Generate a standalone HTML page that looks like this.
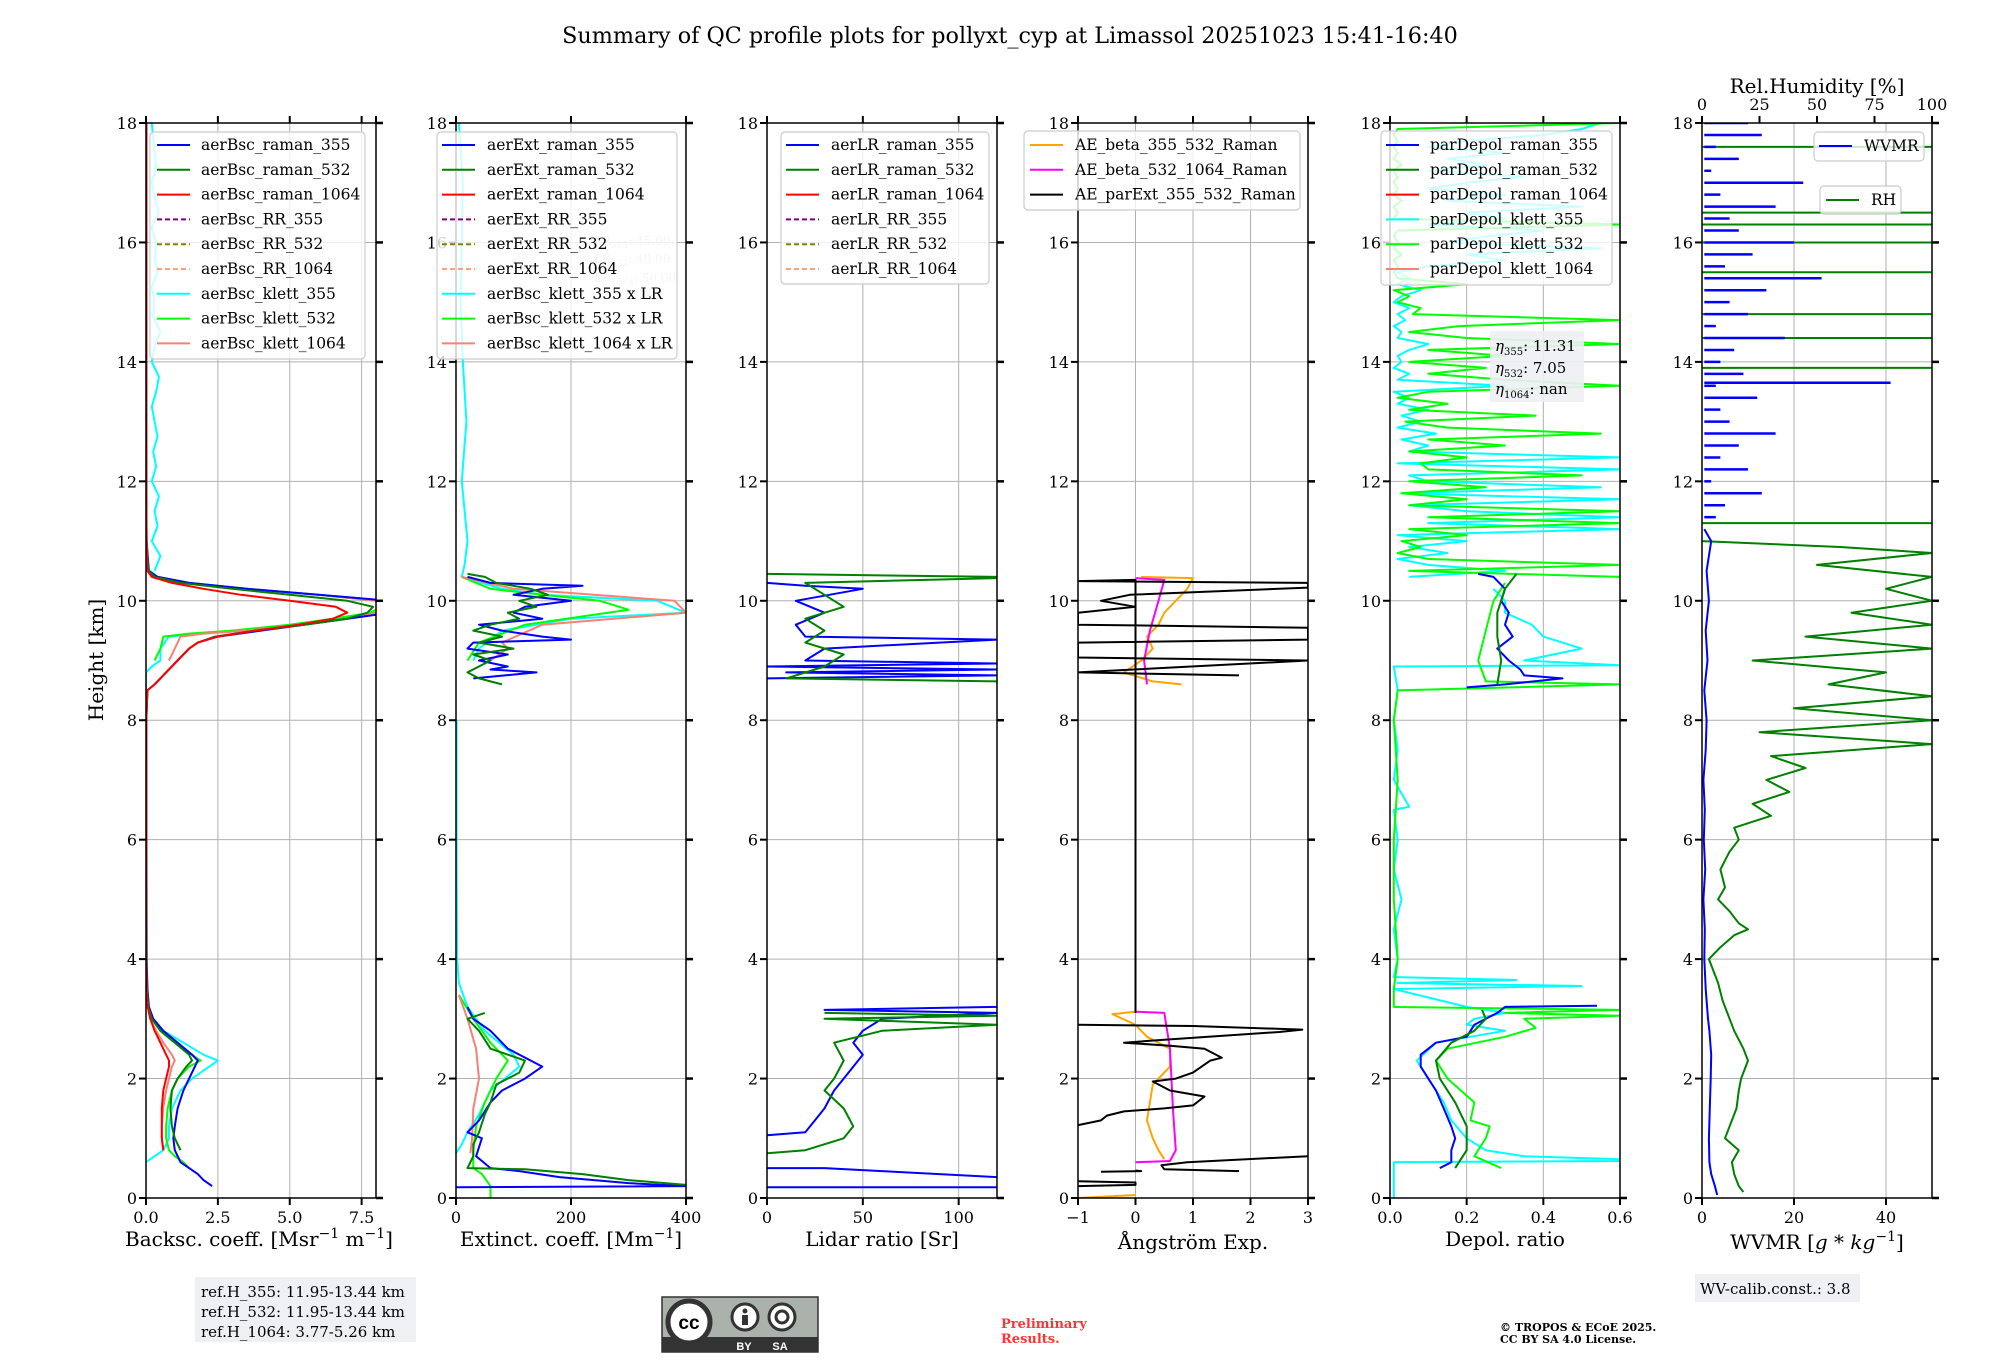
<!DOCTYPE html>
<html><head><meta charset="utf-8"><style>
html,body{margin:0;padding:0;background:#fff;}
svg{display:block;font-family:"DejaVu Serif","Liberation Serif",serif;}
</style></head><body>
<svg id="fig" width="2000" height="1360" viewBox="0 0 2000 1360" xmlns="http://www.w3.org/2000/svg">
<rect x="0" y="0" width="2000" height="1360" fill="#fff"/>
<text x="1010" y="43" font-size="22.3" text-anchor="middle">Summary of QC profile plots for pollyxt_cyp at Limassol 20251023 15:41-16:40</text>
<text transform="translate(103,660) rotate(-90)" font-size="20" text-anchor="middle">Height [km]</text>
<text x="259" y="1246" font-size="20" text-anchor="middle">Backsc. coeff. [Msr<tspan dy="-8" font-size="14">−1</tspan><tspan dy="8"> m</tspan><tspan dy="-8" font-size="14">−1</tspan><tspan dy="8">]</tspan></text>
<text x="571" y="1246" font-size="20" text-anchor="middle">Extinct. coeff. [Mm<tspan dy="-8" font-size="14">−1</tspan><tspan dy="8">]</tspan></text>
<text x="882" y="1246" font-size="20" text-anchor="middle">Lidar ratio [Sr]</text>
<text x="1193" y="1249" font-size="20" text-anchor="middle">Ångström Exp.</text>
<text x="1505" y="1246" font-size="20" text-anchor="middle">Depol. ratio</text>
<text x="1817" y="1249" font-size="20" text-anchor="middle">WVMR [<tspan font-style="italic">g</tspan> * <tspan font-style="italic">kg</tspan><tspan dy="-8" font-size="14">−1</tspan><tspan dy="8">]</tspan></text>
<text x="1817" y="93" font-size="20" text-anchor="middle">Rel.Humidity [%]</text>

<g>
<rect x="195" y="1277" width="221" height="65" fill="#eef0f4"/>
<text x="201" y="1297" font-size="15">ref.H_355: 11.95-13.44 km</text>
<text x="201" y="1317" font-size="15">ref.H_532: 11.95-13.44 km</text>
<text x="201" y="1337" font-size="15">ref.H_1064: 3.77-5.26 km</text>
</g>
<g>
<rect x="662" y="1297" width="156" height="55" fill="#aab2ab" stroke="#333" stroke-width="1.5"/>
<rect x="662" y="1337" width="156" height="15" fill="#333"/>
<circle cx="689" cy="1322" r="21" fill="#fff" stroke="#333" stroke-width="5"/>
<text x="689" y="1329" font-family="Liberation Sans,sans-serif" font-weight="bold" font-size="19" text-anchor="middle">cc</text>
<circle cx="745" cy="1317" r="13" fill="#fff" stroke="#333" stroke-width="3"/>
<circle cx="745" cy="1311" r="2.5" fill="#333"/>
<rect x="742" y="1315" width="6" height="10" fill="#333"/>
<circle cx="782" cy="1317" r="13" fill="#fff" stroke="#333" stroke-width="3"/>
<circle cx="782" cy="1317" r="6" fill="none" stroke="#333" stroke-width="3"/>
<text x="744" y="1350" fill="#fff" font-family="Liberation Sans,sans-serif" font-weight="bold" font-size="11" text-anchor="middle">BY</text>
<text x="780" y="1350" fill="#fff" font-family="Liberation Sans,sans-serif" font-weight="bold" font-size="11" text-anchor="middle">SA</text>
</g>
<text x="1001" y="1328" font-size="13" font-weight="bold" fill="#ff3333">Preliminary</text>
<text x="1001" y="1343" font-size="13" font-weight="bold" fill="#ff3333">Results.</text>
<text x="1500" y="1331" font-size="11" font-weight="bold">© TROPOS &amp; ECoE 2025.</text>
<text x="1500" y="1343" font-size="11" font-weight="bold">CC BY SA 4.0 License.</text>
<g>
<rect x="1695" y="1274" width="165" height="28" fill="#eef0f4"/>
<text x="1700" y="1294" font-size="15">WV-calib.const.: 3.8</text>
</g>
</svg>
<script>
// ---------- data (estimated from reference) ----------
const H_BSC = [0.2,0.3,0.4,0.5,0.6,0.8,1.0,1.2,1.5,1.8,2.0,2.2,2.3,2.4,2.6,2.8,3.0,3.2,3.5,4,6,8,8.5,8.6,8.8,9.0,9.2,9.3,9.4,9.5,9.6,9.7,9.8,9.9,10.0,10.1,10.2,10.3,10.4,10.5,11,12,14,16,18];
const BSC_RAMAN_355 = [2.3,2.0,1.8,1.5,1.2,1.0,0.95,1.0,1.1,1.3,1.5,1.7,1.8,1.6,1.1,0.6,0.25,0.1,0.05,0.02,0.01,0.01,0.05,0.3,0.7,1.1,1.5,1.8,2.5,4.0,5.5,7.0,8.5,8.6,8.5,6.0,3.5,1.5,0.4,0.1,0.02,0.01,0.01,0.01,0.01];
const BSC_RAMAN_532 = [null,null,null,null,null,1.2,1.0,0.9,0.85,0.9,1.1,1.4,1.6,1.5,1.0,0.5,0.2,0.08,0.03,0.01,0.01,0.01,0.05,0.3,0.7,1.1,1.5,1.8,2.4,3.8,5.5,7.0,7.7,7.9,7.0,5.0,3.0,1.2,0.3,0.08,0.02,0.01,0.01,0.01,0.01];
const BSC_RAMAN_1064 = [null,null,null,null,null,0.6,0.55,0.55,0.55,0.6,0.7,0.8,0.8,0.7,0.5,0.3,0.15,0.06,0.02,0.01,0.01,0.01,0.05,0.3,0.7,1.1,1.5,1.8,2.5,3.8,5.3,6.5,7.0,6.6,5.0,3.3,2.0,0.9,0.2,0.05,0.02,0.01,0.01,0.01,0.01];
const H_KLETT = [0.5,0.6,0.7,0.8,1.0,1.2,1.5,1.8,2.0,2.2,2.3,2.4,2.6,2.8,3.0,3.2,3.5,4,8.8,8.9,9.0,9.2,9.4,9.45,9.5,9.6,9.7,9.8,9.9,10.0,10.1,10.2,10.3,10.4,10.5];
const BSC_KLETT_355 = [null,0.0,0.3,0.6,0.8,0.8,0.9,1.2,1.6,2.2,2.5,2.0,1.3,0.6,0.25,0.1,0.05,0.03,0.0,0.2,0.5,0.5,0.8,2.0,3.5,5.0,6.5,8.0,8.5,8.5,6.0,3.5,1.5,0.4,0.15];
const BSC_KLETT_532 = [1.5,1.3,1.0,0.8,0.7,0.7,0.75,0.9,1.1,1.5,1.9,1.6,1.0,0.5,0.2,0.08,0.03,0.01,null,null,0.3,0.5,0.6,1.5,3.0,5.0,6.5,7.8,8.2,8.0,6.0,3.5,1.5,0.4,0.1];
const BSC_KLETT_1064 = [null,null,null,0.6,0.55,0.55,0.6,0.7,0.8,0.9,1.0,0.9,0.6,0.35,0.15,0.06,0.02,0.01,null,null,0.8,1.0,1.2,2.0,3.5,5.5,7.0,8.0,8.2,8.0,6.0,3.5,1.5,0.4,0.1];
const H_KLETT355_UP = [10.5,10.75,11.0,11.25,11.5,11.75,12.0,12.25,12.5,12.75,13.0,13.25,13.5,13.75,14.0,14.25,14.5,14.75,15.0,15.25,15.5,15.75,16.0,16.25,16.5,16.75,17.0,17.25,17.5,17.75,18.0];
const BSC_KLETT355_UP = [0.3,0.5,0.2,0.4,0.3,0.45,0.2,0.35,0.25,0.4,0.3,0.2,0.35,0.45,0.2,0.3,0.5,0.25,0.3,0.2,0.4,0.3,0.35,0.2,0.45,0.3,0.2,0.35,0.3,0.25,0.2];

const EXT355_H = [0.18,0.2,0.25,0.35,0.45,0.5,0.7,1.0,1.1,1.3,1.6,1.8,2.0,2.2,2.3,2.5,2.8,3.0,3.2,null,8.7,8.8,8.85,8.9,9.0,9.1,9.2,9.3,9.35,9.4,9.5,9.6,9.7,9.8,9.9,10.0,10.1,10.2,10.25,10.3,10.4];
const EXT355_V = [0,400,300,180,110,60,35,45,20,40,60,80,120,150,130,90,60,30,20,null,30,140,60,90,40,90,20,30,200,150,80,40,150,100,120,200,100,150,220,60,20];
const EXT532_H = [0.22,0.3,0.4,0.48,0.5,0.7,0.9,1.1,1.4,1.6,1.9,2.1,2.3,2.5,2.8,3.0,3.1,null,8.6,8.7,8.8,9.0,9.1,9.2,9.3,9.4,9.5,9.6,9.7,9.8,9.9,10.0,10.1,10.2,10.3,10.4,10.45];
const EXT532_V = [400,300,220,120,20,30,30,40,50,60,70,110,120,60,40,20,50,null,80,40,20,60,30,100,40,80,30,60,110,90,140,110,160,130,70,50,20];
const EXTK355_H = [0.75,0.9,1.1,1.4,1.8,2.2,2.4,2.8,3.2,3.6,4,6,8,null,9.0,9.2,9.5,9.7,9.8,10.0,10.1,10.2,10.4,10.6,11,12,13,14,15,16,17,18];
const EXTK355_V = [0,10,20,40,60,110,100,50,20,5,2,1,1,null,30,40,80,200,400,350,150,80,10,15,20,10,18,12,8,10,12,5];
const EXTK532_H = [0.0,0.2,0.4,0.5,0.8,1.2,1.6,2.0,2.3,2.6,3.0,3.4,null,9.0,9.3,9.6,9.85,10.0,10.1,10.2,10.4];
const EXTK532_V = [60,60,45,30,30,35,50,70,90,60,30,5,null,20,40,120,300,250,150,60,10];
const EXTK1064_H = [0.75,1.0,1.5,2.0,2.5,3.0,3.4,null,9.0,9.2,9.3,9.6,9.8,10.0,10.2,10.4];
const EXTK1064_V = [25,28,30,40,35,20,5,null,60,90,80,150,400,380,100,10];

const LR355_H = [0.18,0.18,null,0.35,0.45,0.5,0.5,null,1.05,1.1,1.3,1.5,1.8,2.0,2.2,2.4,2.6,2.8,3.0,3.1,3.15,3.2,null,8.7,8.75,8.8,8.85,8.9,8.95,9.0,9.2,9.35,9.4,9.6,9.8,10.0,10.2,10.25,10.3];
const LR355_V = [0,120,null,120,60,30,0,null,0,20,25,30,35,40,45,50,45,50,60,120,30,120,null,0,120,10,120,0,120,20,30,120,20,15,30,15,50,20,0];
const LR532_H = [0.75,0.8,1.0,1.2,1.5,1.8,2.0,2.3,2.6,2.8,2.9,3.0,3.05,3.1,null,8.65,8.7,8.9,9.1,9.3,9.5,9.7,9.9,10.1,10.3,10.38,10.4,10.45];
const LR532_V = [0,20,40,45,40,30,35,40,35,60,120,30,120,30,null,120,10,30,40,20,30,20,40,30,20,120,120,0];

const AE_EXT_H = [0.2,0.22,0.26,0.28,null,0.44,0.45,0.46,null,0.45,0.48,0.55,0.6,0.7,null,1.22,1.3,1.38,1.45,1.5,1.55,1.7,1.8,1.95,2.0,2.1,2.3,2.35,2.5,2.55,2.6,2.65,2.78,2.82,2.88,2.9,null,3.1,10.35,10.33,10.3,10.22,10.1,10.0,9.9,9.8,9.6,9.55,9.35,9.3,9.05,9.0,8.8,8.75];
const AE_EXT_V = [-1,0,0,-1,null,-0.6,0.1,0,null,1.8,0.5,0.45,0.9,3.0,null,-1,-0.6,-0.5,-0.2,0.5,1.0,1.2,0.6,0.3,0.7,1.0,1.3,1.5,1.2,0.6,-0.2,0.5,2.5,2.9,1.0,-1,null,0,0,-1,3,3,-0.1,-0.6,0,-1,-1,3,3,-1,-1,3,-1,1.8];
const AE_B355_H = [0.0,0.05,null,0.65,0.8,1.0,1.3,1.6,1.9,2.2,2.5,2.7,2.9,3.08,3.12,null,8.6,8.65,8.8,9.0,9.2,9.4,9.6,9.8,10.2,10.38,10.4];
const AE_B355_V = [-1,0,null,0.5,0.4,0.3,0.2,0.25,0.3,0.6,0.6,0.2,0,-0.4,0,null,0.8,0.3,-0.2,0.1,0.3,0.2,0.4,0.5,0.9,1.0,0.1];
const AE_B532_H = [0.6,0.62,0.8,1.5,2.5,3.1,3.12,null,8.6,9.0,9.5,10.0,10.35,10.38];
const AE_B532_V = [0,0.6,0.7,0.65,0.6,0.5,0,null,0.2,0.15,0.25,0.4,0.5,0];

const DP355_H = [0.5,0.6,0.8,1.0,1.2,1.5,1.8,2.0,2.2,2.4,2.6,2.7,2.9,3.0,3.1,3.2,3.22,null,8.55,8.6,8.7,8.75,8.85,9.0,9.2,9.4,9.6,9.8,10.0,10.2,10.4,10.45];
const DP355_V = [0.13,0.16,0.16,0.17,0.16,0.14,0.12,0.1,0.08,0.08,0.12,0.2,0.22,0.25,0.28,0.3,0.54,null,0.2,0.3,0.45,0.35,0.34,0.31,0.28,0.32,0.3,0.31,0.29,0.3,0.27,0.23];
const DP532_H = [0.5,0.8,1.2,1.6,2.0,2.3,2.6,2.8,3.0,3.15,null,8.6,9.0,9.4,9.8,10.2,10.45];
const DP532_V = [0.17,0.2,0.2,0.17,0.13,0.12,0.16,0.22,0.25,0.24,null,0.28,0.29,0.28,0.28,0.3,0.33];
const DPK355_H = [0.0,0.6,0.62,0.65,0.7,0.8,1.0,1.3,1.6,2.0,2.3,2.6,2.8,2.9,3.0,3.1,3.2,3.5,3.55,3.6,3.65,3.7,4.0,4.5,5,5.5,6,6.5,6.55,7,7.5,8,8.5,8.9,8.92,9.0,9.2,9.4,9.6,9.8,10.0,10.2];
const DPK355_V = [0.01,0.01,0.6,0.6,0.35,0.25,0.2,0.16,0.14,0.1,0.07,0.12,0.3,0.2,0.22,0.3,0.2,0.01,0.5,0.02,0.33,0.01,0.02,0.01,0.03,0.01,0.02,0.01,0.05,0.01,0.02,0.01,0.02,0.01,0.6,0.35,0.5,0.4,0.37,0.3,0.3,0.27];
const DPK532_H = [0.5,0.7,1.0,1.2,1.3,1.6,2.0,2.3,2.5,2.7,2.85,3.0,3.05,3.1,3.15,3.2,3.5,4,5,6,7,8,8.5,8.6,8.65,9.0,9.5,10.0,10.3];
const DPK532_V = [0.29,0.22,0.25,0.26,0.21,0.22,0.15,0.12,0.15,0.3,0.38,0.35,0.6,0.3,0.6,0.01,0.01,0.02,0.01,0.01,0.02,0.01,0.02,0.6,0.25,0.23,0.25,0.27,0.3];
const DP_UP_H = [10.4,10.5,10.6,10.7,10.8,10.9,11.0,11.1,11.2,11.3,11.4,11.5,11.6,11.7,11.8,11.9,12.0,12.1,12.2,12.3,12.4,12.5,12.6,12.7,12.8,12.9,13.0,13.1,13.2,13.3,13.4,13.5,13.6,13.7,13.8,13.9,14.0,14.1,14.2,14.3,14.4,14.5,14.6,14.7,14.8,14.9,15.0,15.1,15.2,15.3,15.4,15.5,15.6,15.7,15.8,15.9,16.0,16.1,16.2,16.3,16.4,16.5,16.6,16.7,16.8,16.9,17.0,17.1,17.2,17.3,17.4,17.5,17.6,17.7,17.8,17.9,18.0];
const DPK532_UP = [0.6,0.05,0.6,0.1,0.02,0.08,0.03,0.2,0.05,0.6,0.1,0.6,0.05,0.2,0.03,0.25,0.05,0.5,0.1,0.08,0.2,0.05,0.3,0.1,0.55,0.15,0.04,0.38,0.05,0.15,0.02,0.1,0.6,0.3,0.1,0.25,0.05,0.3,0.1,0.6,0.2,0.05,0.18,0.6,0.06,0.08,0.02,0.05,0.01,0.2,0.02,0.01,0.02,0.01,0.03,0.01,0.02,0.01,0.02,0.6,0.01,0.02,0.01,0.03,0.01,0.02,0.01,0.02,0.01,0.03,0.01,0.02,0.01,0.02,0.01,0.02,0.6];
const DPK355_UP = [0.05,0.3,0.1,0.02,0.15,0.05,0.2,0.02,0.6,0.1,0.6,0.2,0.05,0.6,0.03,0.55,0.1,0.05,0.6,0.02,0.6,0.05,0.1,0.03,0.12,0.02,0.08,0.03,0.1,0.02,0.05,0.01,0.3,0.02,0.05,0.01,0.03,0.02,0.05,0.1,0.02,0.03,0.01,0.04,0.02,0.05,0.01,0.03,0.08,0.02,0.05,0.02,0.1,0.3,0.2,0.55,0.15,0.25,0.4,0.1,0.3,0.2,0.5,0.15,0.3,0.1,0.2,0.35,0.1,0.25,0.15,0.3,0.1,0.2,0.4,0.5,0.55];

const WV_H = [0.05,0.2,0.4,0.6,1.0,1.5,2.0,2.4,2.8,3.0,3.5,4.0,4.5,5,5.5,6,6.5,7,7.5,8,8.5,9,9.5,10,10.5,11,11.2];
const WV_V = [3.3,2.8,2.0,1.6,1.5,1.7,1.9,2.0,1.6,1.3,0.8,0.5,0.6,0.3,0.7,0.4,0.6,0.3,0.8,1.0,0.5,1.2,0.8,1.5,1.0,2.0,0.5];
const WV_UP_H = [11.4,11.6,11.8,12.0,12.2,12.4,12.6,12.8,13.0,13.2,13.4,13.6,13.65,13.8,14.0,14.2,14.4,14.6,14.8,15.0,15.2,15.4,15.6,15.8,16.0,16.2,16.4,16.6,16.8,17.0,17.2,17.4,17.6,17.8,18.0];
const WV_UP_V = [3,5,13,2,10,4,8,16,6,4,12,3,41,9,4,7,18,3,10,6,14,26,5,11,20,8,6,16,4,22,2,8,3,13,10];
const RH_H = [0.1,0.2,0.4,0.6,0.8,1.0,1.2,1.5,1.8,2.0,2.3,2.5,2.8,3.0,3.3,3.6,4.0,4.2,4.4,4.5,4.6,4.8,5.0,5.2,5.5,5.8,6.0,6.2,6.4,6.6,6.8,7.0,7.2,7.4,7.6,7.8,8.0,8.2,8.4,8.6,8.8,9.0,9.2,9.4,9.6,9.8,10.0,10.2,10.4,10.6,10.8,10.9,11.0];
const RH_V = [18,16,14,13,16,10,12,15,16,17,20,18,14,12,9,7,3,8,14,20,16,12,7,10,8,12,16,14,30,22,38,28,45,30,100,25,100,40,100,55,80,22,100,45,100,65,100,80,100,50,100,60,0];
const RH_SPIKE_H = [11.3,13.9,14.4,14.8,15.5,16.0,16.3,16.5,17.6];
const RH_SPIKE_V = [100,100,100,100,100,100,100,100,100];

const X_TICKS = [[0,2.5,5,7.5],[0,200,400],[0,50,100],[-1,0,1,2,3],[0,0.2,0.4,0.6],[0,20,40]];
const X_TICK_LABELS = [["0.0","2.5","5.0","7.5"],["0","200","400"],["0","50","100"],["−1","0","1","2","3"],["0.0","0.2","0.4","0.6"],["0","20","40"]];
const Y_TICKS = [0,2,4,6,8,10,12,14,16,18];
const RH_TICKS = [0,25,50,75,100];

// ---------- layout ----------
const NS = 'http://www.w3.org/2000/svg';
const svg = document.getElementById('fig');
const PL = [146,456,767,1078,1390,1702], PW = 230, TOP = 123, BOT = 1198;
const DOM = [[0,8.0],[0,400],[0,120],[-1,3],[0,0.6],[0,50]];
const PANEL_NAMES = ['backscatter','extinction','lidar-ratio','angstrom','depol','wvmr'];
function yOf(h){ return BOT - h/18*(BOT-TOP); }
function xOf(p,v){ const d=DOM[p]; return PL[p] + (v-d[0])/(d[1]-d[0])*PW; }
function xRH(v){ return PL[5] + v/100*PW; }
function mk(tag, attrs, parent){ const e=document.createElementNS(NS,tag); for(const k in attrs) e.setAttribute(k,attrs[k]); (parent||svg).appendChild(e); return e; }

const defs = mk('defs',{});
for(let p=0;p<6;p++){
  const cp = mk('clipPath',{id:'clip'+p},defs);
  mk('rect',{x:PL[p],y:TOP,width:PW,height:BOT-TOP},cp);
  const g = mk('g',{});
  
  
  for(const t of Y_TICKS){
    const l = mk('line',{x1:PL[p],x2:PL[p]+PW,y1:yOf(t),y2:yOf(t),stroke:'#b0b0b0','stroke-width':1},g);
    
    
    const tk = mk('line',{x1:PL[p]-7,x2:PL[p],y1:yOf(t),y2:yOf(t),stroke:'#000','stroke-width':2},g);
    
    
    const tr = mk('line',{x1:PL[p]+PW,x2:PL[p]+PW+7,y1:yOf(t),y2:yOf(t),stroke:'#000','stroke-width':2.5},g);
    
    
    const lb = mk('text',{x:PL[p]-9,y:yOf(t)+6,'font-size':16,'text-anchor':'end'},g);
    lb.textContent = String(t);
    
    
  }
  X_TICKS[p].forEach((t,i)=>{
    const x = xOf(p,t);
    const l = mk('line',{x1:x,x2:x,y1:TOP,y2:BOT,stroke:'#b0b0b0','stroke-width':1},g);
    
    
    const tk = mk('line',{x1:x,x2:x,y1:BOT,y2:BOT+7,stroke:'#000','stroke-width':2},g);
    
    
    if(p<5){
      const tt = mk('line',{x1:x,x2:x,y1:TOP-7,y2:TOP,stroke:'#000','stroke-width':2},g);
      
      
    }
    const lb = mk('text',{x:x,y:BOT+25,'font-size':16,'text-anchor':'middle'},g);
    lb.textContent = X_TICK_LABELS[p][i];
    
    
  });
  if(p<5){
    const rt = mk('line',{x1:PL[p]+PW,x2:PL[p]+PW,y1:TOP-7,y2:TOP,stroke:'#000','stroke-width':2},g);
    
    
  }
}
RH_TICKS.forEach(t=>{
  const x = xRH(t);
  const tk = mk('line',{x1:x,x2:x,y1:TOP-7,y2:TOP,stroke:'#000','stroke-width':2});
  
  
  const lb = mk('text',{x:x,y:TOP-13,'font-size':16,'text-anchor':'middle'});
  lb.textContent = String(t);
  
  
});

// ---------- series ----------
function pathD(p, H, V, xf){
  let d='', pen=false;
  for(let i=0;i<H.length;i++){
    if(H[i]===null || V[i]===null){ pen=false; continue; }
    const x = xf ? xf(V[i]) : xOf(p,V[i]);
    d += (pen?'L':'M') + x.toFixed(1) + ' ' + yOf(H[i]).toFixed(1) + ' ';
    pen = true;
  }
  return d;
}
const SERIES = [
  {p:0,h:H_KLETT355_UP,v:BSC_KLETT355_UP,c:'#00ffff',n:'aerbsc-klett-355-upper-line'},
  {p:0,h:H_KLETT,v:BSC_KLETT_355,c:'#00ffff',n:'aerbsc-klett-355-line'},
  {p:0,h:H_KLETT,v:BSC_KLETT_532,c:'#00ff00',n:'aerbsc-klett-532-line'},
  {p:0,h:H_KLETT,v:BSC_KLETT_1064,c:'#fa8072',n:'aerbsc-klett-1064-line'},
  {p:0,h:H_BSC,v:BSC_RAMAN_355,c:'#0000ff',n:'aerbsc-raman-355-line'},
  {p:0,h:H_BSC,v:BSC_RAMAN_532,c:'#008000',n:'aerbsc-raman-532-line'},
  {p:0,h:H_BSC,v:BSC_RAMAN_1064,c:'#ff0000',n:'aerbsc-raman-1064-line'},
  {p:1,h:EXTK355_H,v:EXTK355_V,c:'#00ffff',n:'aerbsc-klett-355-x-lr-line'},
  {p:1,h:EXTK532_H,v:EXTK532_V,c:'#00ff00',n:'aerbsc-klett-532-x-lr-line'},
  {p:1,h:EXTK1064_H,v:EXTK1064_V,c:'#fa8072',n:'aerbsc-klett-1064-x-lr-line'},
  {p:1,h:EXT355_H,v:EXT355_V,c:'#0000ff',n:'aerext-raman-355-line'},
  {p:1,h:EXT532_H,v:EXT532_V,c:'#008000',n:'aerext-raman-532-line'},
  {p:2,h:LR355_H,v:LR355_V,c:'#0000ff',n:'aerlr-raman-355-line'},
  {p:2,h:LR532_H,v:LR532_V,c:'#008000',n:'aerlr-raman-532-line'},
  {p:3,h:AE_B355_H,v:AE_B355_V,c:'#ffa500',n:'ae-beta-355-532-line'},
  {p:3,h:AE_B532_H,v:AE_B532_V,c:'#ff00ff',n:'ae-beta-532-1064-line'},
  {p:3,h:AE_EXT_H,v:AE_EXT_V,c:'#000000',n:'ae-parext-355-532-line'},
  {p:4,h:DP_UP_H,v:DPK355_UP,c:'#00ffff',n:'pardepol-klett-355-upper-line'},
  {p:4,h:DP_UP_H,v:DPK532_UP,c:'#00ff00',n:'pardepol-klett-532-upper-line'},
  {p:4,h:DPK355_H,v:DPK355_V,c:'#00ffff',n:'pardepol-klett-355-line'},
  {p:4,h:DPK532_H,v:DPK532_V,c:'#00ff00',n:'pardepol-klett-532-line'},
  {p:4,h:DP355_H,v:DP355_V,c:'#0000ff',n:'pardepol-raman-355-line'},
  {p:4,h:DP532_H,v:DP532_V,c:'#008000',n:'pardepol-raman-532-line'},
  {p:5,h:RH_H,v:RH_V,c:'#008000',n:'rh-line',rh:true},
  {p:5,h:WV_H,v:WV_V,c:'#0000ff',n:'wvmr-line'}
];
for(const s of SERIES){
  const el = mk('path',{d:pathD(s.p,s.h,s.v,s.rh?xRH:null),fill:'none',stroke:s.c,'stroke-width':2,'stroke-linejoin':'round','clip-path':'url(#clip'+s.p+')'});
  
  
}
RH_SPIKE_H.forEach((h,i)=>{
  const el = mk('line',{x1:xRH(0),x2:xRH(RH_SPIKE_V[i]),y1:yOf(h),y2:yOf(h),stroke:'#008000','stroke-width':2,'clip-path':'url(#clip5)'});
  
  
});
WV_UP_H.forEach((h,i)=>{
  const el = mk('line',{x1:xOf(5,0.5),x2:xOf(5,WV_UP_V[i]),y1:yOf(h),y2:yOf(h),stroke:'#0000ff','stroke-width':2.5,'clip-path':'url(#clip5)'});
  
  
});
for(let p=0;p<6;p++){
  const f = mk('rect',{x:PL[p],y:TOP,width:PW,height:BOT-TOP,fill:'none',stroke:'#000','stroke-width':1.5});
  
  
}

// ---------- legends ----------
function legend(name, box, lx, tx, y0, entries){
  const g = mk('g',{});
  
  
  const r = mk('rect',{x:box[0],y:box[1],width:box[2]-box[0],height:box[3]-box[1],rx:4,fill:'#fff','fill-opacity':0.8,stroke:'#cccccc','stroke-width':1.2},g);
  
  
  entries.forEach((e,i)=>{
    const y = y0 + i*24.8;
    const ln = mk('line',{x1:lx,x2:lx+33,y1:y,y2:y,stroke:e[1],'stroke-width':2,'stroke-dasharray':e[2]?'5,3':'none'},g);
    
    
    const t = mk('text',{x:tx,y:y+5,'font-size':15.5},g);
    t.textContent = e[0];
    
    
  });
}
const lrg = mk('g',{});


[['LR','355',': 45.00',245],['LR','532',': 40.00',263],['LR','1064',': 50.00',282]].forEach(a=>{
  const t = mk('text',{x:594,y:a[3],'font-size':12,fill:'#c8c8c8'},lrg);
  t.innerHTML = a[0]+'<tspan dy="3" font-size="9">'+a[1]+'</tspan><tspan dy="-3">'+a[2]+'</tspan>';
  
  
});
legend('legend-backscatter',[150,132,365,359],157,201,145,[
 ['aerBsc_raman_355','#0000ff'],['aerBsc_raman_532','#008000'],['aerBsc_raman_1064','#ff0000'],
 ['aerBsc_RR_355','#800080',1],['aerBsc_RR_532','#808000',1],['aerBsc_RR_1064','#ffa07a',1],
 ['aerBsc_klett_355','#00ffff'],['aerBsc_klett_532','#00ff00'],['aerBsc_klett_1064','#fa8072']]);
legend('legend-extinction',[437,132,677,359],442,487,145,[
 ['aerExt_raman_355','#0000ff'],['aerExt_raman_532','#008000'],['aerExt_raman_1064','#ff0000'],
 ['aerExt_RR_355','#800080',1],['aerExt_RR_532','#808000',1],['aerExt_RR_1064','#ffa07a',1],
 ['aerBsc_klett_355 x LR','#00ffff'],['aerBsc_klett_532 x LR','#00ff00'],['aerBsc_klett_1064 x LR','#fa8072']]);
legend('legend-lidar-ratio',[781,132,989,284],786,831,145,[
 ['aerLR_raman_355','#0000ff'],['aerLR_raman_532','#008000'],['aerLR_raman_1064','#ff0000'],
 ['aerLR_RR_355','#800080',1],['aerLR_RR_532','#808000',1],['aerLR_RR_1064','#ffa07a',1]]);
legend('legend-angstrom',[1024,131,1300,210],1030,1075,145,[
 ['AE_beta_355_532_Raman','#ffa500'],['AE_beta_532_1064_Raman','#ff00ff'],['AE_parExt_355_532_Raman','#000000']]);
legend('legend-depol',[1381,131,1612,285],1386,1430,145,[
 ['parDepol_raman_355','#0000ff'],['parDepol_raman_532','#008000'],['parDepol_raman_1064','#ff0000'],
 ['parDepol_klett_355','#00ffff'],['parDepol_klett_532','#00ff00'],['parDepol_klett_1064','#fa8072']]);
legend('legend-wvmr',[1814,132,1924,161],1819,1864,146,[['WVMR','#0000ff']]);
legend('legend-rh',[1820,186,1901,214],1826,1871,200,[['RH','#008000']]);
const eg = mk('g',{});


const er = mk('rect',{x:1490,y:331,width:94,height:71,fill:'#eef0f4','fill-opacity':0.9},eg);


[['355',': 11.31',351],['532',': 7.05',373],['1064',': nan',394]].forEach(a=>{
  const t = mk('text',{x:1495,y:a[2],'font-size':15},eg);
  t.innerHTML = '<tspan font-style="italic">η</tspan><tspan dy="4" font-size="10">'+a[0]+'</tspan><tspan dy="-4">'+a[1]+'</tspan>';
  
  
});
</script>
</body></html>
